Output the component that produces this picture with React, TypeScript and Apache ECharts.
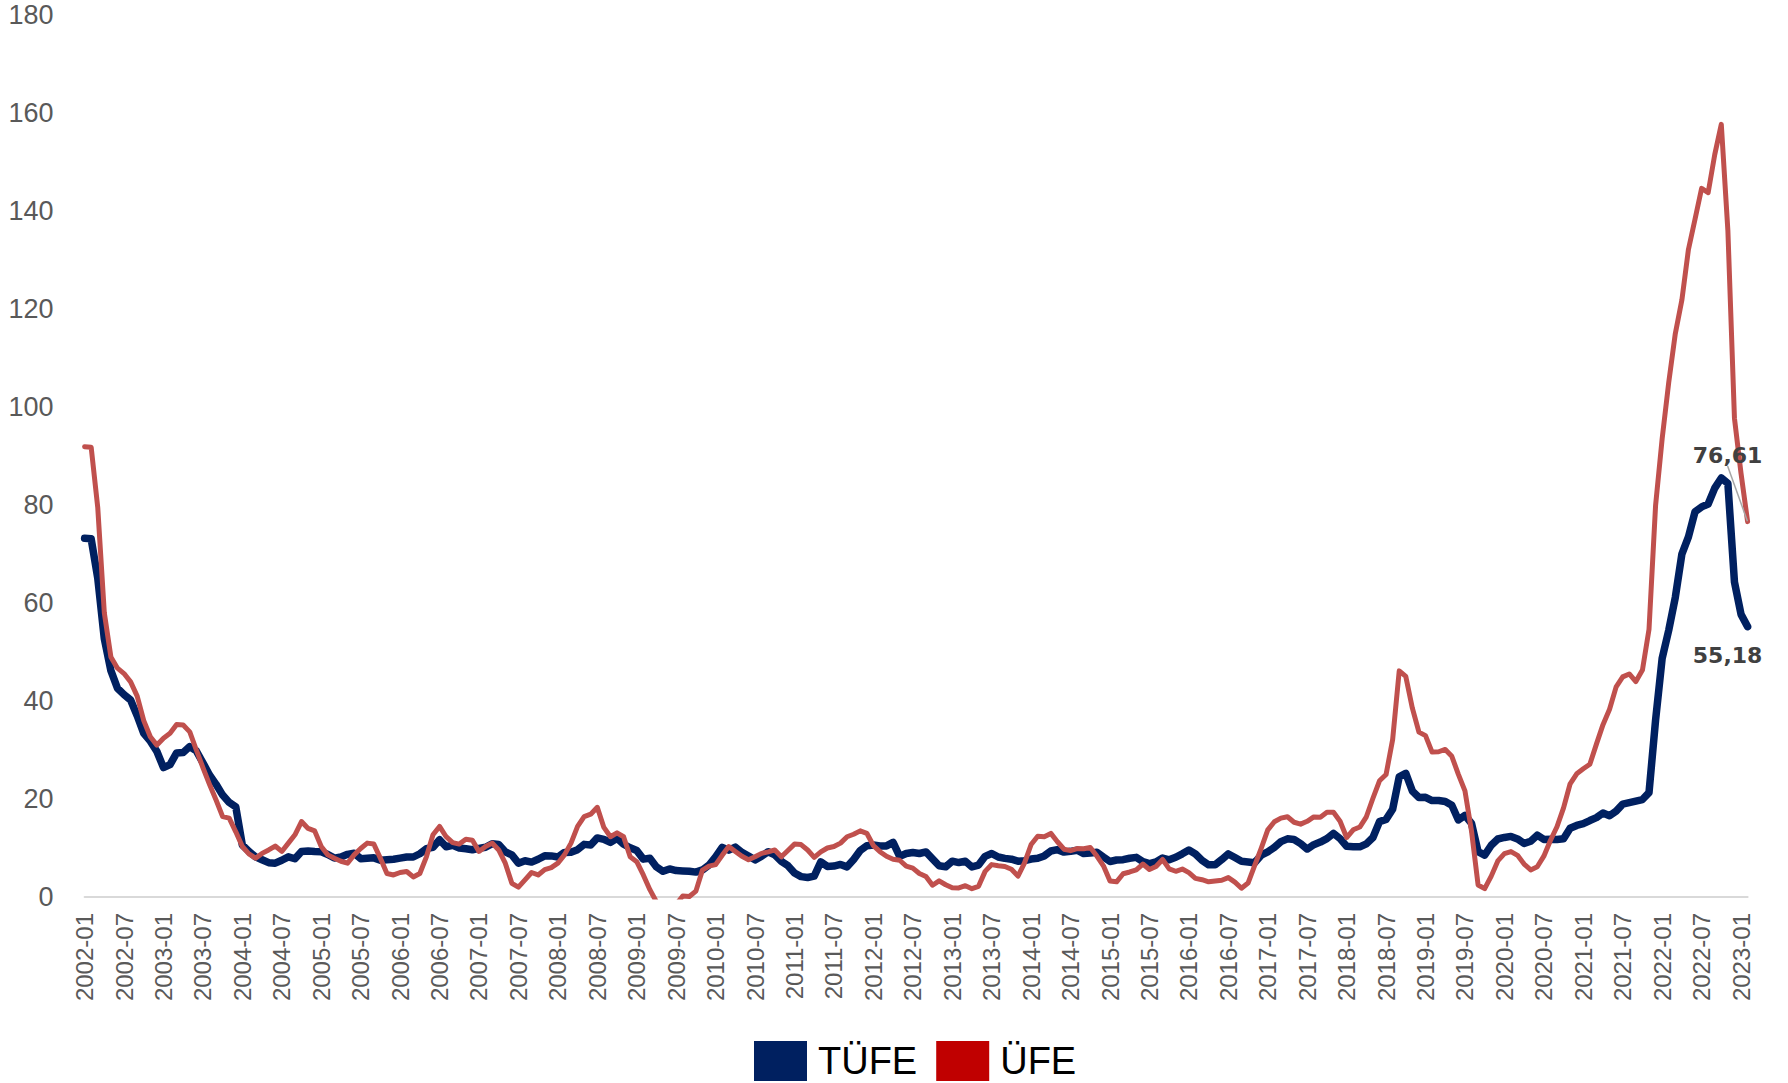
import React, { useEffect, useRef } from "react";
import * as echarts from "echarts";

// Monthly categories 2002-01 .. 2023-02
const START_YEAR = 2002;
const MONTH_COUNT = 254;
const categories: string[] = [];
for (let i = 0; i < MONTH_COUNT; i++) {
  const y = START_YEAR + Math.floor(i / 12);
  const m = (i % 12) + 1;
  categories.push(`${y}-${m < 10 ? "0" + m : m}`);
}

// TÜFE (annual %, monthly)
const tufe = [
  73.2, 73.1, 65.1, 52.7, 46.2, 42.6, 41.3, 40.2, 37.0, 33.4, 31.8, 29.7, // 2002
  26.4, 27.0, 29.4, 29.5, 30.7, 29.8, 27.4, 24.9, 23.0, 20.8, 19.3, 18.4, // 2003
  10.6, 9.3, 8.2, 7.6, 7.0, 6.9, 7.5, 8.2, 7.8, 9.3, 9.4, 9.3, // 2004
  9.24, 8.69, 7.94, 8.18, 8.7, 8.95, 7.82, 7.91, 7.99, 7.52, 7.61, 7.72, // 2005
  7.93, 8.15, 8.16, 8.83, 9.86, 10.12, 11.69, 10.26, 10.55, 9.98, 9.86, 9.65, // 2006
  9.93, 10.16, 10.86, 10.72, 9.23, 8.6, 6.9, 7.39, 7.12, 7.7, 8.4, 8.39, // 2007
  8.17, 9.1, 9.15, 9.66, 10.74, 10.61, 12.06, 11.77, 11.13, 11.99, 10.76, 10.06, // 2008
  9.5, 7.73, 7.89, 6.13, 5.24, 5.73, 5.39, 5.33, 5.27, 5.08, 5.53, 6.53, // 2009
  8.19, 10.13, 9.56, 10.19, 9.1, 8.37, 7.58, 8.33, 9.24, 8.62, 7.29, 6.4, // 2010
  4.9, 4.16, 3.99, 4.26, 7.17, 6.24, 6.31, 6.65, 6.15, 7.66, 9.48, 10.45, // 2011
  10.61, 10.43, 10.43, 11.14, 8.28, 8.87, 9.07, 8.88, 9.19, 7.8, 6.37, 6.16, // 2012
  7.31, 7.03, 7.29, 6.13, 6.51, 8.3, 8.88, 8.17, 7.88, 7.71, 7.32, 7.4, // 2013
  7.75, 7.89, 8.39, 9.38, 9.66, 9.16, 9.32, 9.54, 8.86, 8.96, 9.15, 8.17, // 2014
  7.24, 7.55, 7.61, 7.91, 8.09, 7.2, 6.81, 7.14, 7.95, 7.58, 8.1, 8.81, // 2015
  9.58, 8.78, 7.46, 6.57, 6.58, 7.64, 8.79, 8.05, 7.28, 7.16, 7.0, 8.53, // 2016
  9.22, 10.13, 11.29, 11.87, 11.72, 10.9, 9.79, 10.68, 11.2, 11.9, 12.98, 11.92, // 2017
  10.35, 10.26, 10.23, 10.85, 12.15, 15.39, 15.85, 17.9, 24.52, 25.24, 21.62, 20.3, // 2018
  20.35, 19.67, 19.71, 19.5, 18.71, 15.72, 16.65, 15.01, 9.26, 8.55, 10.56, 11.84, // 2019
  12.15, 12.37, 11.86, 10.94, 11.39, 12.62, 11.76, 11.77, 11.75, 11.89, 14.03, 14.6, // 2020
  14.97, 15.61, 16.19, 17.14, 16.59, 17.53, 18.95, 19.25, 19.58, 19.89, 21.31, 36.08, // 2021
  48.69, 54.44, 61.14, 69.97, 73.5, 78.62, 79.6, 80.21, 83.45, 85.51, 84.39, 64.27, // 2022
  57.68, 55.18, // 2023
];

// ÜFE (annual %, monthly)
const ufe = [
  91.9, 91.8, 79.5, 58.0, 49.0, 46.7, 45.6, 43.9, 41.0, 36.0, 32.7, 31.0, // 2002
  32.4, 33.4, 35.2, 35.1, 33.7, 30.0, 26.4, 23.0, 19.8, 16.4, 16.1, 13.3, // 2003
  10.3, 8.8, 7.9, 8.9, 9.6, 10.4, 9.3, 11.0, 12.7, 15.4, 14.0, 13.5, // 2004
  10.3, 8.6, 7.9, 7.3, 6.9, 8.6, 9.9, 11.0, 10.8, 7.9, 4.8, 4.5, // 2005
  5.0, 5.2, 4.1, 4.8, 8.2, 12.7, 14.4, 12.3, 11.1, 10.8, 11.8, 11.6, // 2006
  9.3, 10.3, 11.0, 9.6, 6.9, 2.8, 2.0, 3.5, 5.0, 4.5, 5.6, 6.0, // 2007
  6.9, 8.6, 11.0, 14.4, 16.4, 16.9, 18.3, 14.2, 12.3, 13.1, 12.3, 8.2, // 2008
  7.2, 4.5, 1.5, -1.0, -2.5, -3.0, -1.5, 0.2, 0.1, 1.2, 5.5, 6.3, // 2009
  6.6, 8.5, 10.3, 9.3, 8.3, 7.6, 8.2, 8.9, 9.2, 9.6, 8.2, 9.5, // 2010
  10.8, 10.7, 9.6, 8.1, 9.2, 10.0, 10.3, 11.0, 12.3, 12.8, 13.5, 13.0, // 2011
  10.5, 9.25, 8.3, 7.7, 7.5, 6.3, 5.9, 4.8, 4.2, 2.4, 3.3, 2.5, // 2012
  1.88, 1.84, 2.3, 1.7, 2.17, 5.23, 6.61, 6.38, 6.23, 5.67, 4.26, 6.97, // 2013
  10.72, 12.4, 12.31, 12.98, 11.28, 9.75, 9.46, 9.88, 9.84, 10.1, 8.36, 6.36, // 2014
  3.28, 3.1, 4.75, 5.11, 5.52, 6.73, 5.62, 6.21, 7.65, 5.74, 5.25, 5.71, // 2015
  4.97, 3.8, 3.53, 3.1, 3.25, 3.41, 3.96, 3.03, 1.78, 2.84, 6.41, 9.94, // 2016
  13.69, 15.36, 16.09, 16.37, 15.26, 14.87, 15.45, 16.34, 16.28, 17.28, 17.3, 15.47, // 2017
  12.14, 13.71, 14.28, 16.37, 20.16, 23.71, 25.0, 32.13, 46.15, 45.01, 38.54, 33.64, // 2018
  32.93, 29.58, 29.64, 30.12, 28.71, 25.04, 21.66, 13.45, 2.45, 1.7, 4.26, 7.36, // 2019
  8.84, 9.26, 8.5, 6.71, 5.53, 6.17, 8.33, 11.53, 14.33, 18.2, 23.11, 25.15, // 2020
  26.16, 27.09, 31.2, 35.17, 38.33, 42.89, 44.92, 45.52, 43.96, 46.31, 54.62, 79.89, // 2021
  93.53, 105.01, 114.97, 121.82, 132.16, 138.31, 144.61, 143.75, 151.5, 157.69, 136.02, 97.72, // 2022
  86.46, 76.61, // 2023
];

const SERIES_NAMES = ["TÜFE", "ÜFE"];
const LINE_COLORS = ["#002060", "#C0504D"];
const LEGEND_COLORS = ["#002060", "#C00000"];
const LAST_LABELS = ["55,18", "76,61"];
const Y_MIN = 0;
const Y_MAX = 180;
const Y_INTERVAL = 20;

const FONT = "'Liberation Sans', Arial, sans-serif";

function lastPointLabel(values: number[], text: string, extra: any) {
  const last = values.length - 1;
  return values.map((v, i) =>
    i === last
      ? {
          value: v,
          symbol: "circle",
          symbolSize: 1,
          itemStyle: { color: "rgba(0,0,0,0)", borderWidth: 0 },
          label: {
            show: true,
            formatter: text,
            fontFamily: "'DejaVu Sans', Verdana, sans-serif",
            fontWeight: "bold",
            fontSize: 22,
            color: "#404040",
            ...extra,
          },
        }
      : v
  );
}

export default function App() {
  const ref = useRef<HTMLDivElement>(null);

  useEffect(() => {
    if (!ref.current) return;
    const chart = echarts.init(ref.current, undefined, { renderer: "svg" });
    const ufeLast = ufe.length - 1;
    chart.setOption({
      animation: false,
      backgroundColor: "#ffffff",
      grid: { left: 84.6, right: 40.4, top: 15, bottom: 186, containLabel: false },
      legend: {
        left: 754,
        top: 1041,
        padding: 0,
        itemWidth: 53,
        itemHeight: 40,
        itemGap: 19,
        icon: "rect",
        itemStyle: { borderWidth: 0 },
        textStyle: {
          fontFamily: FONT,
          fontSize: 38,
          color: "#000000",
          padding: [0, 0, 0, 6],
        },
        data: SERIES_NAMES.map((n, i) => ({
          name: n,
          icon: "rect",
          itemStyle: { color: LEGEND_COLORS[i], borderWidth: 0 },
        })),
      },
      xAxis: {
        type: "category",
        data: categories,
        boundaryGap: false,
        axisLine: { show: true, lineStyle: { color: "#d9d9d9", width: 2 } },
        axisTick: { show: false },
        splitLine: { show: false },
        axisLabel: {
          interval: (i: number) => i % 6 === 0,
          rotate: 90,
          margin: 16,
          fontFamily: FONT,
          fontSize: 24,
          color: "#595959",
        },
      },
      yAxis: {
        type: "value",
        min: Y_MIN,
        max: Y_MAX,
        interval: Y_INTERVAL,
        axisLine: { show: false },
        axisTick: { show: false },
        splitLine: { show: false },
        axisLabel: {
          margin: 31,
          fontFamily: FONT,
          fontSize: 27,
          color: "#595959",
        },
      },
      series: [
        {
          name: SERIES_NAMES[0],
          type: "line",
          data: lastPointLabel(tufe, LAST_LABELS[0], { position: "bottom", offset: [-20, 12] }),
          symbol: "none",
          showSymbol: true,
          showAllSymbol: true,
          clip: true,
          color: LINE_COLORS[0],
          lineStyle: { color: LINE_COLORS[0], width: 7.5, cap: "round", join: "round" },
          itemStyle: { color: LINE_COLORS[0] },
          emphasis: { disabled: true },
          z: 2,
        },
        {
          name: SERIES_NAMES[1],
          type: "line",
          data: lastPointLabel(ufe, LAST_LABELS[1], { position: "top" }),
          symbol: "none",
          showSymbol: true,
          showAllSymbol: true,
          clip: true,
          color: LINE_COLORS[1],
          lineStyle: { color: LINE_COLORS[1], width: 5, cap: "round", join: "round" },
          itemStyle: { color: LINE_COLORS[1] },
          labelLayout: (params: any) =>
            params.dataIndex === ufeLast ? { dx: -20, dy: -50 } : {},
          labelLine: { show: true, lineStyle: { color: "#a6a6a6", width: 1.5 } },
          emphasis: { disabled: true },
          z: 3,
        },
      ],
    });
    return () => chart.dispose();
  }, []);

  return (
    <div
      ref={ref}
      style={{ position: "fixed", left: 0, top: 0, width: 1788, height: 1083, background: "#fff" }}
    />
  );
}
